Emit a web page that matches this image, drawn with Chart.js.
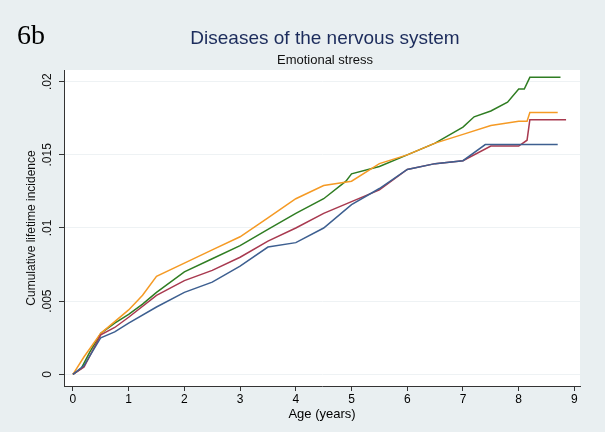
<!DOCTYPE html>
<html><head><meta charset="utf-8">
<script src="https://cdn.jsdelivr.net/npm/chart.js@4"></script>
<style>body{margin:0;background:#e9eff1}</style>
</head><body><canvas id="c" width="605" height="432"></canvas>
<script>
const greenX  = [0,0.15,0.3,0.5,0.75,1,1.25,1.5,2,2.5,3,3.5,4,4.5,4.9,5,5.5,6,6.5,7,7.2,7.5,7.8,8,8.1,8.2,8.3,8.75];
const greenY  = [0,0.4,1.5,2.8,3.5,4.1,4.8,5.6,7,7.9,8.8,9.9,11,12,13.2,13.7,14.2,15,15.8,16.9,17.6,18,18.6,19.5,19.5,20.3,20.3,20.3];
const orangeX = [0,0.2,0.5,0.75,1,1.25,1.5,2,2.5,3,3.5,4,4.5,5,5.5,6,6.5,7,7.5,8,8.15,8.2,8.7];
const orangeY = [0,1.2,2.8,3.6,4.4,5.4,6.7,7.6,8.5,9.4,10.7,12,12.9,13.2,14.4,15,15.8,16.4,17,17.3,17.3,17.9,17.9];
const redX    = [0,0.2,0.5,0.75,1,1.5,2,2.5,3,3.5,4,4.5,5,5.5,6,6.5,7,7.5,8,8.15,8.2,8.85];
const redY    = [0,0.5,2.7,3.2,3.9,5.4,6.4,7.1,8,9.1,10,11,11.8,12.6,14,14.4,14.6,15.6,15.6,16,17.4,17.4];
const blueX   = [0,0.2,0.5,0.75,1,1.5,2,2.5,3,3.5,4,4.5,5,5.5,6,6.5,7,7.4,8,8.7];
const blueY   = [0,0.6,2.5,2.9,3.5,4.6,5.6,6.3,7.4,8.7,9,10,11.6,12.7,14,14.4,14.6,15.7,15.7,15.7];
const xTicks  = [0,1,2,3,4,5,6,7,8,9];
const yTicks  = [0,0.005,0.01,0.015,0.02];
const yLabels = ['0','.005','.01','.015','.02'];

const pts = (xs, ys) => xs.map((x, i) => ({x: x, y: ys[i] / 1000}));
const ds = (xs, ys, col) => ({data: pts(xs, ys), borderColor: col, borderWidth: 1.5, pointRadius: 0, tension: 0, fill: false});

const overlay = {
  id: 'overlay',
  beforeDraw(chart) {
    const {ctx, chartArea: a} = chart;
    ctx.save();
    ctx.fillStyle = '#fff';
    ctx.fillRect(a.left, a.top, a.right - a.left, a.bottom - a.top);
    ctx.restore();
  },
  afterDraw(chart) {
    const ctx = chart.ctx, y = chart.scales.y, a = chart.chartArea;
    ctx.save();
    ctx.fillStyle = '#000';
    ctx.font = '28px "Liberation Serif"';
    ctx.textBaseline = 'alphabetic';
    ctx.fillText('6b', 17, 44);
    ctx.textAlign = 'center';
    ctx.fillStyle = '#1c2c5c';
    ctx.font = '19px "Liberation Sans"';
    ctx.fillText('Diseases of the nervous system', 325, 44);
    ctx.fillStyle = '#111';
    ctx.font = '13px "Liberation Sans"';
    ctx.fillText('Emotional stress', 325, 64);
    // y-Ticks senkrecht wie in Stata
    ctx.font = '12px "Liberation Sans"';
    yTicks.forEach((v, i) => {
      const py = y.getPixelForValue(v);
      ctx.save();
      ctx.translate(a.left - 10, py);
      ctx.rotate(-Math.PI / 2);
      ctx.textBaseline = 'bottom';
      ctx.fillText(yLabels[i], 0, 0);
      ctx.restore();
    });
    ctx.save();
    ctx.translate(32, (a.top + a.bottom) / 2);
    ctx.rotate(-Math.PI / 2);
    ctx.textBaseline = 'middle';
    ctx.fillText('Cumulative lifetime incidence', 0, 0);
    ctx.restore();
    ctx.restore();
  }
};

new Chart(document.getElementById('c'), {
  type: 'line',
  data: {datasets: [
    ds(blueX, blueY, '#3d5f90'),
    ds(redX, redY, '#a8394f'),
    ds(orangeX, orangeY, '#f59a24'),
    ds(greenX, greenY, '#2f7d22')
  ]},
  options: {
    responsive: false, animation: false, devicePixelRatio: 1,
    layout: {padding: {left: 0, right: 25, top: 70, bottom: 10}},
    plugins: {legend: {display: false}, tooltip: {enabled: false}},
    scales: {
      x: {
        type: 'linear', min: -0.16, max: 9.1,
        afterBuildTicks: s => { s.ticks = xTicks.map(v => ({value: v})); },
        afterFit: s => { s.height = 36; },
        grid: {drawOnChartArea: false, tickColor: '#333', tickLength: 5},
        border: {color: '#333'},
        ticks: {color: '#000', font: {size: 12, family: 'Liberation Sans'}, padding: 1},
        title: {display: true, text: 'Age (years)', color: '#000', font: {size: 13, family: 'Liberation Sans'}, padding: 0}
      },
      y: {
        min: -0.0008, max: 0.0208,
        afterBuildTicks: s => { s.ticks = yTicks.map(v => ({value: v})); },
        afterFit: s => { s.width = 64; },
        grid: {color: '#eef2f4', tickColor: '#333', tickLength: 5},
        border: {color: '#333'},
        ticks: {display: false}
      }
    }
  },
  plugins: [overlay]
});
</script></body></html>
